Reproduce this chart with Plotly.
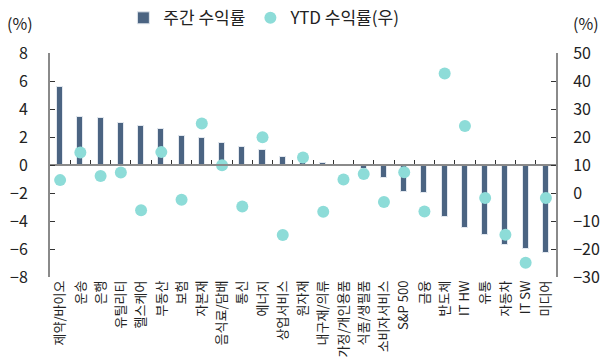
import plotly.graph_objects as go

# Sector weekly returns (left axis, %) and YTD returns (right axis, %)
sectors = [
    "제약/바이오", "운송", "은행", "유틸리티", "헬스케어", "부동산", "보험", "자본재",
    "음식료/담배", "통신", "에너지", "상업서비스", "원자재", "내구재/의류", "가정/개인용품",
    "식품/생필품", "소비자서비스", "S&P 500", "금융", "반도체", "IT HW", "유통",
    "자동차", "IT SW", "미디어",
]
weekly_return = [
    5.55, 3.45, 3.38, 3.02, 2.78, 2.54, 2.07, 1.90, 1.59, 1.28, 1.09, 0.54, 0.14,
    0.12, -0.02, -0.29, -0.93, -1.91, -2.00, -3.69, -4.52, -5.02, -5.71, -6.02, -6.31,
]
ytd_return = [
    4.6, 14.5, 6.1, 7.3, -6.2, 14.6, -2.4, 24.8, 9.9, -4.8, 19.9, -15.0, 12.7,
    -6.7, 4.8, 6.8, -3.2, 7.4, -6.6, 42.7, 23.9, -1.8, -14.9, -24.9, -1.8,
]

idx = list(range(len(sectors)))
FONT = "Noto Sans CJK KR"
AXIS_GRAY = "#8a8a8a"
TEXT = "#222222"

fig = go.Figure()
fig.add_trace(go.Bar(
    x=idx, y=weekly_return, name="주간 수익률", width=0.3,
    marker=dict(color="#4b6482", line=dict(color="#e3e8ef", width=1)),
    xaxis="x", yaxis="y",
))
fig.add_trace(go.Scatter(
    x=idx, y=ytd_return, name="YTD 수익률(우)", mode="markers",
    marker=dict(color="#8ddcd8", size=12),
    xaxis="x", yaxis="y2",
))

fig.update_layout(
    width=606, height=360,
    margin=dict(l=50, r=50, t=53, b=83, autoexpand=False),
    paper_bgcolor="white", plot_bgcolor="white",
    font=dict(family=FONT, color=TEXT, size=14),
    showlegend=True,
    legend=dict(
        orientation="h", x=0.145, xanchor="left", y=1.155, yanchor="middle",
        font=dict(size=17, color=TEXT), itemwidth=30,
        tracegroupgap=0, bgcolor="rgba(0,0,0,0)",
    ),
    bargap=0,
    xaxis=dict(
        range=[-0.5, len(sectors) - 0.5], tickmode="array",
        tickvals=idx, ticktext=sectors, tickangle=-90,
        tickfont=dict(size=13, color=TEXT, family=FONT),
        showline=False, showgrid=False, zeroline=False, ticks="",
    ),
    # axis drawn along the zero line with ticks at category boundaries
    xaxis2=dict(
        overlaying="x", anchor="free", position=0.5,
        range=[-0.5, len(sectors) - 0.5], tickmode="array",
        tickvals=[i + 0.5 for i in idx[:-1]], showticklabels=False,
        showline=True, linecolor=AXIS_GRAY, linewidth=2,
        ticks="inside", ticklen=4, tickcolor="#333333", tickwidth=1,
        showgrid=False, zeroline=False,
    ),
    yaxis=dict(
        range=[-8, 8], dtick=2, tick0=0,
        showline=True, linecolor=AXIS_GRAY, linewidth=2,
        ticks="inside", ticklen=5, tickcolor="#333333", tickwidth=1,
        showgrid=False, zeroline=False, ticklabelstandoff=17,
        tickfont=dict(size=16, color=TEXT),
    ),
    yaxis2=dict(
        range=[-30, 50], dtick=10, tick0=0, overlaying="y", side="right",
        showline=True, linecolor=AXIS_GRAY, linewidth=2,
        ticks="inside", ticklen=5, tickcolor="#333333", tickwidth=1,
        showgrid=False, zeroline=False, ticklabelstandoff=12,
        tickfont=dict(size=16, color=TEXT),
    ),
    annotations=[
        dict(text="(%)", xref="paper", yref="paper", x=-0.06, y=1.135,
             xanchor="center", yanchor="middle", showarrow=False,
             font=dict(size=16, color=TEXT)),
        dict(text="(%)", xref="paper", yref="paper", x=1.06, y=1.135,
             xanchor="center", yanchor="middle", showarrow=False,
             font=dict(size=16, color=TEXT)),
    ],
)

# a placeholder trace on xaxis2 so the zero-line axis is rendered
fig.add_trace(go.Scatter(x=[None], y=[None], xaxis="x2", yaxis="y",
                         showlegend=False, hoverinfo="skip"))

fig.write_html("out.html")
